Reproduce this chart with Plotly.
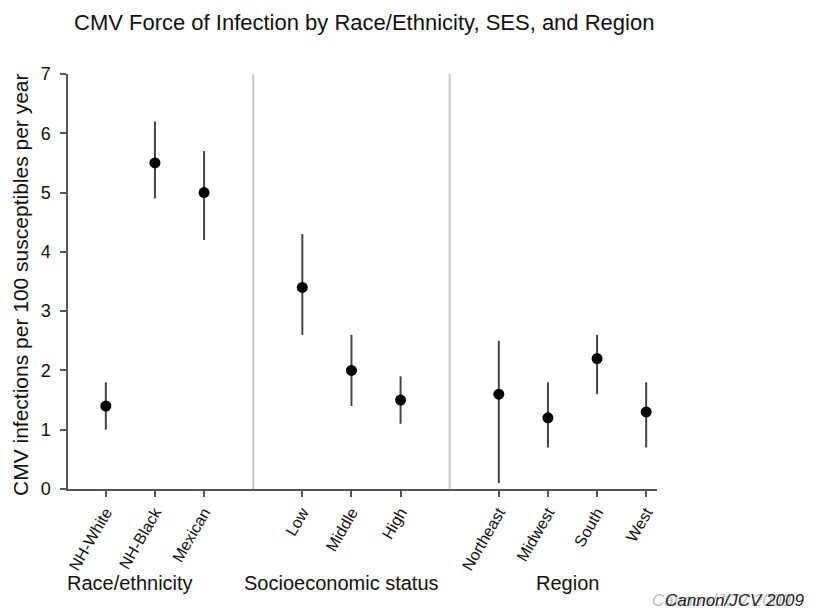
import plotly.graph_objects as go

categories = ["NH-White", "NH-Black", "Mexican", "Low", "Middle", "High",
              "Northeast", "Midwest", "South", "West"]
positions = [1, 2, 3, 5, 6, 7, 9, 10, 11, 12]
estimates = [1.4, 5.5, 5.0, 3.4, 2.0, 1.5, 1.6, 1.2, 2.2, 1.3]
lower = [1.0, 4.9, 4.2, 2.6, 1.4, 1.1, 0.1, 0.7, 1.6, 0.7]
upper = [1.8, 6.2, 5.7, 4.3, 2.6, 1.9, 2.5, 1.8, 2.6, 1.8]
groups = ["Race/ethnicity", "Socioeconomic status", "Region"]
group_centers = [1.5, 5.8, 10.4]
separators = [4, 8]

err_plus = [u - e for u, e in zip(upper, estimates)]
err_minus = [e - l for e, l in zip(estimates, lower)]

FONT = "Liberation Sans, Arial, sans-serif"
# page body has an 8px margin: figure sits at (8, 8) in the window
OFF = 8
W, H = 815 - OFF, 609 - OFF
L, R_EDGE, T, B_EDGE = 68 - OFF, 657 - OFF, 74 - OFF, 489 - OFF
PW, PH = R_EDGE - L, B_EDGE - T

def px(pix):
    return (pix - OFF - L) / PW

def py(pix):
    return (B_EDGE - (pix - OFF)) / PH

fig = go.Figure()
fig.add_trace(go.Scatter(
    x=positions, y=estimates, mode="markers",
    marker=dict(color="black", size=11),
    error_y=dict(type="data", symmetric=False, array=err_plus, arrayminus=err_minus,
                 color="#444444", thickness=2, width=0),
    showlegend=False, hoverinfo="skip",
))

for s in separators:
    fig.add_shape(type="line", xref="x", yref="y", x0=s, x1=s, y0=0, y1=7,
                  line=dict(color="#c8c8c8", width=2), layer="below")

for g, c in zip(groups, group_centers):
    fig.add_annotation(text=g, x=c, y=py(583), xref="x", yref="paper",
                       showarrow=False, font=dict(size=20, color="#111111", family=FONT),
                       xanchor="center", yanchor="middle")

# y-axis title
fig.add_annotation(text="CMV infections per 100 susceptibles per year",
                   x=px(20), y=py(285), xref="paper", yref="paper", textangle=-90,
                   showarrow=False, font=dict(size=21, color="#111111", family=FONT),
                   xanchor="center", yanchor="middle")

# watermark (grey ghost plus dark text)
fig.add_annotation(text="<i>Cannon/JCV 2009</i>", x=px(650), y=py(600),
                   xref="paper", yref="paper", showarrow=False,
                   font=dict(size=17, color="#bbbbbb", family=FONT),
                   xanchor="left", yanchor="middle")
fig.add_annotation(text="<i>Cannon/JCV 2009</i>", x=px(663), y=py(600),
                   xref="paper", yref="paper", showarrow=False,
                   font=dict(size=17, color="#222222", family=FONT),
                   xanchor="left", yanchor="middle")

fig.update_layout(
    width=W, height=H,
    margin=dict(l=L, r=W - R_EDGE, t=T, b=H - B_EDGE, autoexpand=False),
    paper_bgcolor="white", plot_bgcolor="white",
    font=dict(family=FONT, color="#111111"),
    title=dict(text="CMV Force of Infection by Race/Ethnicity, SES, and Region",
               x=(74 - OFF) / W, xanchor="left", y=1 - (22 - OFF) / H, yanchor="middle",
               font=dict(size=22, family=FONT, color="#111111")),
    xaxis=dict(range=[0.23, 12.22], tickvals=positions, ticktext=categories,
               tickangle=-60, ticks="outside", ticklen=6, tickwidth=1.5, tickcolor="#555555",
               showline=True, linecolor="#555555", linewidth=1.5, showgrid=False,
               zeroline=False, automargin=False,
               tickfont=dict(size=16, color="#111111")),
    yaxis=dict(range=[0, 7], tickvals=[0, 1, 2, 3, 4, 5, 6, 7], ticks="outside",
               ticklen=6, tickwidth=1.5, tickcolor="#555555", showline=True,
               linecolor="#555555", linewidth=1.5, showgrid=False, zeroline=False,
               automargin=False, ticklabelstandoff=6,
               tickfont=dict(size=18, color="#111111")),
)

fig.write_html("out.html")
